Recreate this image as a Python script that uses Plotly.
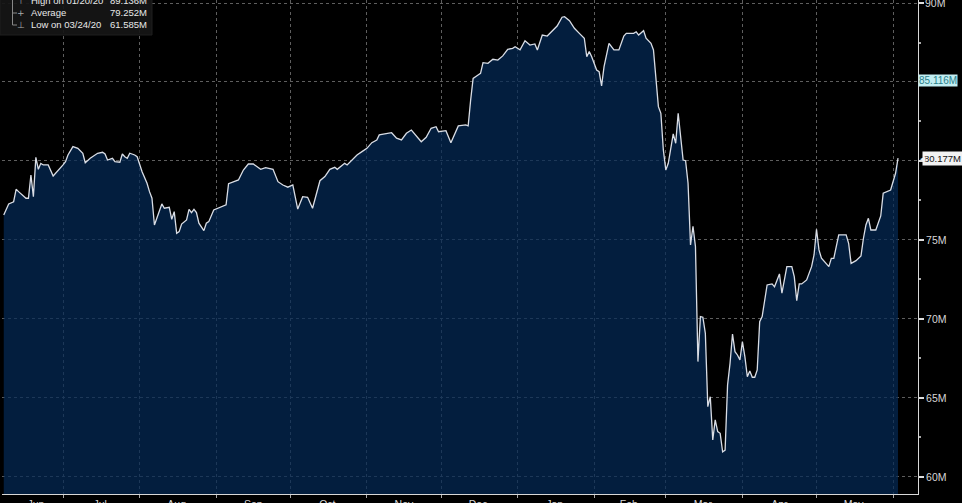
import plotly.graph_objects as go

# ---------------- data ----------------
dates = [
    "2019-06-07", "2019-06-09", "2019-06-11", "2019-06-12", "2019-06-13", "2019-06-16", "2019-06-17",
    "2019-06-18", "2019-06-19", "2019-06-20", "2019-06-21", "2019-06-22", "2019-06-23", "2019-06-25",
    "2019-06-27", "2019-06-30", "2019-07-01", "2019-07-02", "2019-07-03", "2019-07-05", "2019-07-07",
    "2019-07-09", "2019-07-10", "2019-07-12", "2019-07-15", "2019-07-17", "2019-07-18", "2019-07-19",
    "2019-07-21", "2019-07-22", "2019-07-24", "2019-07-25", "2019-07-26", "2019-07-27", "2019-07-28",
    "2019-07-30", "2019-07-31", "2019-08-02", "2019-08-04", "2019-08-05", "2019-08-06", "2019-08-07",
    "2019-08-09", "2019-08-10", "2019-08-11", "2019-08-13", "2019-08-14", "2019-08-15", "2019-08-16",
    "2019-08-17", "2019-08-18", "2019-08-20", "2019-08-21", "2019-08-22", "2019-08-23", "2019-08-24",
    "2019-08-25", "2019-08-27", "2019-08-28", "2019-08-29", "2019-08-31", "2019-09-02", "2019-09-05",
    "2019-09-06", "2019-09-08", "2019-09-10", "2019-09-12", "2019-09-14", "2019-09-16", "2019-09-18",
    "2019-09-19", "2019-09-21", "2019-09-24", "2019-09-26", "2019-09-28", "2019-09-30", "2019-10-02",
    "2019-10-04", "2019-10-06", "2019-10-08", "2019-10-10", "2019-10-13", "2019-10-15", "2019-10-17",
    "2019-10-19", "2019-10-20", "2019-10-23", "2019-10-24", "2019-10-26", "2019-10-28", "2019-10-30",
    "2019-11-01", "2019-11-03", "2019-11-05", "2019-11-06", "2019-11-10", "2019-11-11", "2019-11-13",
    "2019-11-15", "2019-11-17", "2019-11-19", "2019-11-23", "2019-11-25", "2019-11-27", "2019-11-29",
    "2019-11-30", "2019-12-03", "2019-12-05", "2019-12-08", "2019-12-11", "2019-12-12", "2019-12-13",
    "2019-12-14", "2019-12-16", "2019-12-17", "2019-12-18", "2019-12-20", "2019-12-22", "2019-12-24",
    "2019-12-26", "2019-12-28", "2019-12-30", "2019-12-31", "2020-01-02", "2020-01-04", "2020-01-06",
    "2020-01-08", "2020-01-09", "2020-01-11", "2020-01-13", "2020-01-14", "2020-01-17", "2020-01-19",
    "2020-01-20", "2020-01-22", "2020-01-24", "2020-01-26", "2020-01-28", "2020-01-29", "2020-01-30",
    "2020-01-31", "2020-02-02", "2020-02-03", "2020-02-04", "2020-02-05", "2020-02-07", "2020-02-09",
    "2020-02-11", "2020-02-13", "2020-02-14", "2020-02-17", "2020-02-18", "2020-02-19", "2020-02-21",
    "2020-02-22", "2020-02-24", "2020-02-25", "2020-02-26", "2020-02-27", "2020-02-28", "2020-02-29",
    "2020-03-01", "2020-03-02", "2020-03-04", "2020-03-05", "2020-03-06", "2020-03-07", "2020-03-08",
    "2020-03-09", "2020-03-10", "2020-03-11", "2020-03-12", "2020-03-13", "2020-03-14", "2020-03-15",
    "2020-03-16", "2020-03-17", "2020-03-18", "2020-03-19", "2020-03-20", "2020-03-21", "2020-03-22",
    "2020-03-23", "2020-03-24", "2020-03-25", "2020-03-26", "2020-03-27", "2020-03-28", "2020-03-29",
    "2020-03-30", "2020-03-31", "2020-04-01", "2020-04-02", "2020-04-03", "2020-04-04", "2020-04-05",
    "2020-04-06", "2020-04-07", "2020-04-08", "2020-04-09", "2020-04-11", "2020-04-13", "2020-04-14",
    "2020-04-16", "2020-04-17", "2020-04-19", "2020-04-21", "2020-04-22", "2020-04-23", "2020-04-24",
    "2020-04-25", "2020-04-27", "2020-04-29", "2020-04-30", "2020-05-01", "2020-05-02", "2020-05-03",
    "2020-05-06", "2020-05-07", "2020-05-08", "2020-05-10", "2020-05-13", "2020-05-14", "2020-05-15",
    "2020-05-17", "2020-05-19", "2020-05-20", "2020-05-21", "2020-05-22", "2020-05-23", "2020-05-25",
    "2020-05-27", "2020-05-28", "2020-05-31", "2020-06-02", "2020-06-03",
]

values_m = [
    76.58, 77.28, 77.42, 78.21, 78.06, 77.64, 77.64,
    79.11, 77.74, 80.23, 79.47, 79.85, 79.75, 79.75,
    79.05, 79.54, 79.75, 79.96, 80.38, 80.91, 80.80,
    80.49, 79.89, 80.17, 80.49, 80.55, 80.44, 80.06,
    80.17, 79.96, 79.92, 80.44, 80.27, 80.17, 80.49,
    80.38, 80.27, 79.32, 78.59, 78.06, 77.64, 75.95,
    76.79, 77.28, 77.01, 77.07, 76.31, 76.79, 75.42,
    75.53, 76.01, 76.27, 76.94, 76.73, 76.94, 76.73,
    76.06, 75.59, 76.06, 76.16, 76.90, 77.01, 77.22,
    78.56, 78.69, 78.80, 79.43, 79.81, 79.81, 79.60,
    79.47, 79.58, 79.47, 78.69, 78.48, 78.34, 78.48,
    76.96, 77.74, 77.70, 77.01, 78.75, 79.01, 79.47,
    79.60, 79.47, 79.85, 79.75, 80.06, 80.38, 80.59,
    80.80, 81.16, 81.33, 81.65, 81.79, 81.79, 81.44,
    81.33, 81.75, 81.96, 81.22, 81.50, 82.07, 82.17,
    81.85, 81.92, 81.16, 82.22, 82.28, 82.22, 83.86,
    85.23, 85.44, 85.55, 86.22, 86.18, 86.44, 86.39,
    86.65, 87.07, 87.13, 87.23, 87.03, 87.61, 87.34,
    87.41, 87.03, 87.97, 87.91, 88.08, 88.54, 89.10,
    89.136, 88.88, 88.40, 88.08, 87.77, 86.60, 86.92,
    86.60, 85.76, 85.65, 84.75, 85.97, 87.45, 87.03,
    87.03, 87.91, 88.08, 88.08, 88.18, 87.97, 88.25,
    87.77, 87.45, 87.03, 84.92, 83.44, 83.02, 80.70,
    79.43, 79.85, 81.71, 81.12, 83.02, 81.54, 80.06,
    80.02, 78.59, 74.68, 75.87, 74.58, 67.30, 70.15,
    70.11, 69.09, 64.45, 65.08, 62.34, 63.61, 62.87,
    62.76, 61.585, 61.70, 65.82, 67.19, 69.05, 67.93,
    67.72, 67.41, 68.57, 67.62, 66.35, 66.71, 66.31,
    66.31, 66.77, 69.83, 70.15, 72.15, 72.22, 72.04,
    72.85, 71.63, 73.31, 73.31, 72.68, 71.16, 72.22,
    72.22, 72.47, 73.31, 74.05, 75.68, 74.37, 73.84,
    73.31, 73.84, 73.84, 75.32, 75.32, 74.79, 73.52,
    73.69, 73.99, 75.11, 75.95, 76.37, 75.63, 75.63,
    76.52, 77.96, 78.16, 79.22, 80.177,
]

month_label_dates = ["2019-06-20", "2019-07-16", "2019-08-16", "2019-09-16", "2019-10-16",
                     "2019-11-16", "2019-12-16", "2020-01-16", "2020-02-15", "2020-03-16",
                     "2020-04-16", "2020-05-16"]
month_labels = ["Jun", "Jul", "Aug", "Sep", "Oct", "Nov", "Dec", "Jan", "Feb", "Mar", "Apr", "May"]
month_starts = ["2019-07-01", "2019-08-01", "2019-09-01", "2019-10-01", "2019-11-01", "2019-12-01",
                "2020-01-01", "2020-02-01", "2020-03-01", "2020-04-01", "2020-05-01", "2020-06-01"]

y_ticks = [60, 65, 70, 75, 80, 85, 90]
y_tick_labels = ["60M", "65M", "70M", "75M", "", "", ""]
top_tick_value = 90
top_tick_label = "90M"

stat_labels = ["High on 01/20/20", "Average", "Low on 03/24/20"]
stat_values = ["89.136M", "79.252M", "61.585M"]
stat_glyphs = ["\u22a4", "+", "\u22a5"]

last_value = 80.177
marker_value = 85.116

# ---------------- figure ----------------
W, H = 962, 503
ML, MR, MT, MB = 2, 44, 0, 9
PW, PH = W - ML - MR, H - MT - MB


def px(xp):
    return (xp - ML) / PW


def py(yp):
    return 1 - (yp - MT) / PH


fig = go.Figure()
fig.add_trace(go.Scatter(
    x=dates, y=values_m, mode="lines",
    line=dict(color="#d9dde5", width=1.3),
    fill="tozeroy", fillcolor="rgba(4,42,86,0.72)",
    hoverinfo="skip", showlegend=False,
))

grid_col = "#5e5e5e"
fig.update_layout(
    width=W, height=H,
    margin=dict(l=ML, r=MR, t=MT, b=MB, autoexpand=False),
    paper_bgcolor="#000000", plot_bgcolor="#000000",
    font=dict(family="Liberation Sans, Arial, sans-serif", color="#d6d6d6", size=11),
    showlegend=False,
    xaxis=dict(
        type="date", automargin=False,
        range=["2019-06-06 07:00", "2020-06-11 02:00"],
        tickmode="array", tickvals=month_label_dates, ticktext=month_labels,
        ticks="", showgrid=False, zeroline=False,
        showline=True, linecolor="#d8d8d8", linewidth=1,
        tickfont=dict(size=10.5, color="#d6d6d6"),
        minor=dict(tickmode="array", tickvals=month_starts, showgrid=True,
                   gridcolor=grid_col, griddash="dot", gridwidth=1,
                   ticks="outside", ticklen=3, tickcolor="#aaaaaa"),
    ),
    yaxis=dict(
        side="right", automargin=False,
        range=[58.92, 90.19],
        tickmode="array", tickvals=y_ticks, ticktext=y_tick_labels,
        ticks="outside", ticklen=5, tickwidth=2, tickcolor="#dddddd",
        showgrid=True, gridcolor=grid_col, griddash="dot", gridwidth=1,
        zeroline=False,
        showline=True, linecolor="#d8d8d8", linewidth=1,
        tickfont=dict(size=10.5, color="#d6d6d6"),
        minor=dict(dtick=2.5, tick0=0, ticks="outside", ticklen=2, tickcolor="#aaaaaa", showgrid=False),
    ),
)

annotations = []
shapes = []

# top tick label (drawn as annotation so it is not dropped at the edge)
annotations.append(dict(
    x=1, xref="paper", y=top_tick_value, yref="y", xanchor="left", yanchor="middle",
    xshift=5, text=top_tick_label, showarrow=False,
    font=dict(size=10.5, color="#d6d6d6"),
))

# value flags on the right axis
annotations.append(dict(
    x=1, xref="paper", y=marker_value, yref="y", xanchor="left", yanchor="middle",
    xshift=0, text="85.116M", showarrow=False,
    font=dict(size=10, color="#2b7f8a"), bgcolor="#c2eef2", borderpad=0,
))
annotations.append(dict(
    x=1, xref="paper", y=last_value, yref="y", xanchor="left", yanchor="middle",
    xshift=4, text="80.177M", showarrow=False,
    font=dict(size=9.5, color="#111111"), bgcolor="#f2f2f2", borderpad=1,
))
annotations.append(dict(
    x=1, xref="paper", y=last_value, yref="y", xanchor="left", yanchor="middle",
    xshift=0, text="\u25c0", showarrow=False,
    font=dict(size=7, color="#f2f2f2"),
))

# stats box top-left
shapes.append(dict(type="rect", xref="paper", yref="paper",
                   x0=px(0), x1=px(152), y0=py(35), y1=py(-2),
                   fillcolor="rgba(22,22,22,0.92)", line=dict(color="#1e1e1e", width=1),
                   layer="above"))
row_y = [1, 13, 25]
for lbl, val, gl, ry in zip(stat_labels, stat_values, stat_glyphs, row_y):
    annotations.append(dict(x=px(29), y=py(ry), xref="paper", yref="paper",
                            xanchor="left", yanchor="middle", text=lbl, showarrow=False,
                            font=dict(size=9.5, color="#e8e8e8")))
    annotations.append(dict(x=px(149), y=py(ry), xref="paper", yref="paper",
                            xanchor="right", yanchor="middle", text=val, showarrow=False,
                            font=dict(size=9.5, color="#e8e8e8")))
    annotations.append(dict(x=px(21), y=py(ry), xref="paper", yref="paper",
                            xanchor="center", yanchor="middle", text=gl, showarrow=False,
                            font=dict(size=9, color="#aaaaaa", family="DejaVu Sans")))
shapes.append(dict(type="line", xref="paper", yref="paper",
                   x0=px(12.5), x1=px(12.5), y0=py(0), y1=py(25),
                   line=dict(color="#888888", width=1), layer="above"))
shapes.append(dict(type="line", xref="paper", yref="paper",
                   x0=px(12.5), x1=px(17), y0=py(25), y1=py(25),
                   line=dict(color="#888888", width=1), layer="above"))
shapes.append(dict(type="line", xref="paper", yref="paper",
                   x0=px(12.5), x1=px(17), y0=py(13), y1=py(13),
                   line=dict(color="#888888", width=1), layer="above"))

fig.update_layout(annotations=annotations, shapes=shapes)

fig.write_html(
    "out.html",
    config={"displayModeBar": False},
    post_script="document.body.style.margin='0';document.body.style.overflow='hidden';",
)
